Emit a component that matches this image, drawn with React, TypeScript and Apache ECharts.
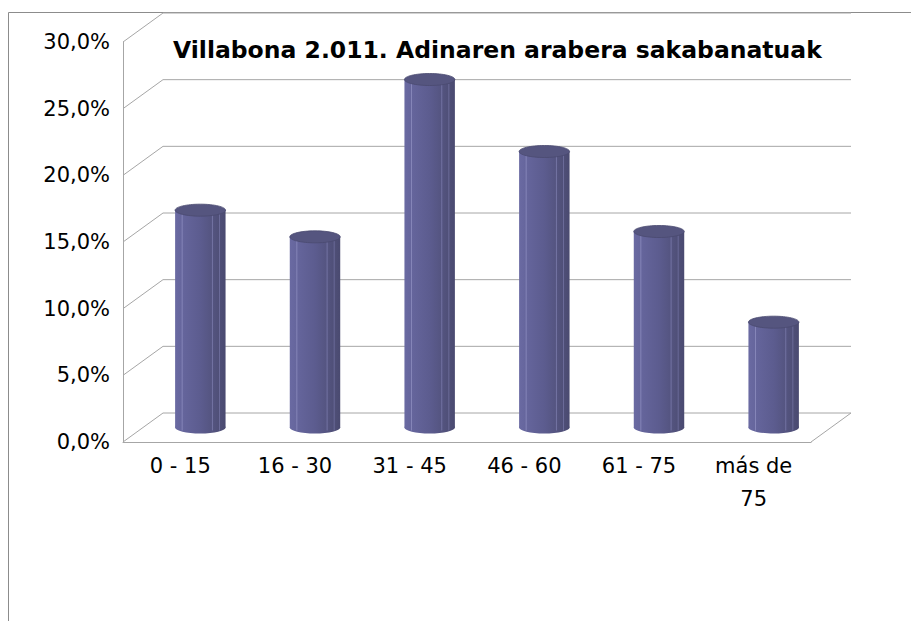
import React, { useEffect, useRef } from "react";
import * as echarts from "echarts";

const titleText = "Villabona 2.011. Adinaren arabera sakabanatuak";
const categories = ["0 - 15", "16 - 30", "31 - 45", "46 - 60", "61 - 75", "más de\n75"];
const values = [16.3, 14.3, 26.1, 20.7, 14.7, 7.9];
const yTicks = [0, 5, 10, 15, 20, 25, 30];

const DX = 40;
const DY = -29;
const GRID_COLOR = "#a6a6a6";
const FONT = "'DejaVu Sans', sans-serif";

export default function App() {
  const ref = useRef<HTMLDivElement>(null);

  useEffect(() => {
    const chart = echarts.init(ref.current!, null, { renderer: "svg" });

    const wallItem = (params: any, api: any) => {
      const cs = params.coordSys;
      const v = api.value(1);
      const y = api.coord([0, v])[1];
      const st = { stroke: GRID_COLOR, lineWidth: 1, fill: null };
      const children: any[] = [
        { type: "line", shape: { x1: cs.x, y1: y, x2: cs.x + DX, y2: y + DY }, style: st },
        { type: "line", shape: { x1: cs.x + DX, y1: y + DY, x2: cs.x + cs.width + DX, y2: y + DY }, style: st },
      ];
      if (v === 0) {
        children.push({
          type: "line",
          shape: { x1: cs.x + cs.width, y1: y, x2: cs.x + cs.width + DX, y2: y + DY },
          style: st,
        });
      }
      return { type: "group", children };
    };

    const cylItem = (params: any, api: any) => {
      const i = api.value(0);
      const v = api.value(1);
      const base = api.coord([i, 0]);
      const top = api.coord([i, v]);
      const bw = api.size([1, 0])[0] * 0.44;
      const cx = base[0] + DX / 2;
      const yb = base[1] + DY / 2;
      const yt = top[1] + DY / 2;
      const rx = bw / 2;
      const ry = 6;
      const body = new echarts.graphic.LinearGradient(0, 0, 1, 0, [
        { offset: 0, color: "#6a6aa2" },
        { offset: 0.15, color: "#65659c" },
        { offset: 0.5, color: "#5c5c8f" },
        { offset: 0.8, color: "#52527c" },
        { offset: 1, color: "#4a4a70" },
      ]);
      const hl = (fx: number, c: string) => ({
        type: "line",
        shape: { x1: cx - rx + bw * fx, y1: yt + 4, x2: cx - rx + bw * fx, y2: yb + 3 },
        style: { stroke: c, lineWidth: 1 },
      });
      return {
        type: "group",
        children: [
          { type: "ellipse", shape: { cx, cy: yb, rx, ry }, style: { fill: body } },
          { type: "rect", shape: { x: cx - rx, y: yt, width: bw, height: yb - yt }, style: { fill: body } },
          hl(0.14, "#8585b8"),
          hl(0.74, "#7373a3"),
          hl(0.88, "#6a6a98"),
          { type: "ellipse", shape: { cx, cy: yt, rx, ry }, style: { fill: "#55557f", stroke: "#4a4a70", lineWidth: 0.8 } },
        ],
      };
    };

    chart.setOption({
      animation: false,
      backgroundColor: "#ffffff",
      title: {
        text: titleText,
        left: 168,
        top: 33,
        textStyle: { fontFamily: FONT, fontSize: 23.5, fontWeight: "bold", color: "#000" },
      },
      graphic: [
        {
          type: "rect",
          shape: { x: 8.5, y: 12.5, width: 1200, height: 1200 },
          style: { fill: null, stroke: "#8c8c8c", lineWidth: 1 },
          silent: true,
          z: 0,
        },
      ],
      grid: { left: 123, top: 42, width: 688, height: 400 },
      xAxis: {
        type: "category",
        data: categories,
        axisLine: { show: true, lineStyle: { color: GRID_COLOR, width: 1 } },
        axisTick: { show: false },
        splitLine: { show: false },
        axisLabel: {
          interval: 0,
          margin: 7,
          color: "#000",
          fontFamily: FONT,
          fontSize: 21,
          lineHeight: 33,
        },
      },
      yAxis: {
        type: "value",
        min: 0,
        max: 30,
        interval: 5,
        axisLine: { show: true, lineStyle: { color: GRID_COLOR, width: 1 } },
        axisTick: { show: false },
        splitLine: { show: false },
        axisLabel: {
          margin: 13,
          color: "#000",
          fontFamily: FONT,
          fontSize: 21,
          formatter: (v: number) => v.toFixed(1).replace(".", ",") + "%",
        },
      },
      series: [
        {
          type: "custom",
          data: yTicks.map((v) => [0, v]),
          renderItem: wallItem,
          silent: true,
          z: 1,
          clip: false,
        },
        {
          type: "custom",
          data: values.map((v, i) => [i, v]),
          renderItem: cylItem,
          z: 3,
          clip: false,
        },
      ],
    });

    return () => chart.dispose();
  }, []);

  return (
    <div
      ref={ref}
      style={{ position: "fixed", left: 0, top: 0, width: 911, height: 621, background: "#fff" }}
    />
  );
}
